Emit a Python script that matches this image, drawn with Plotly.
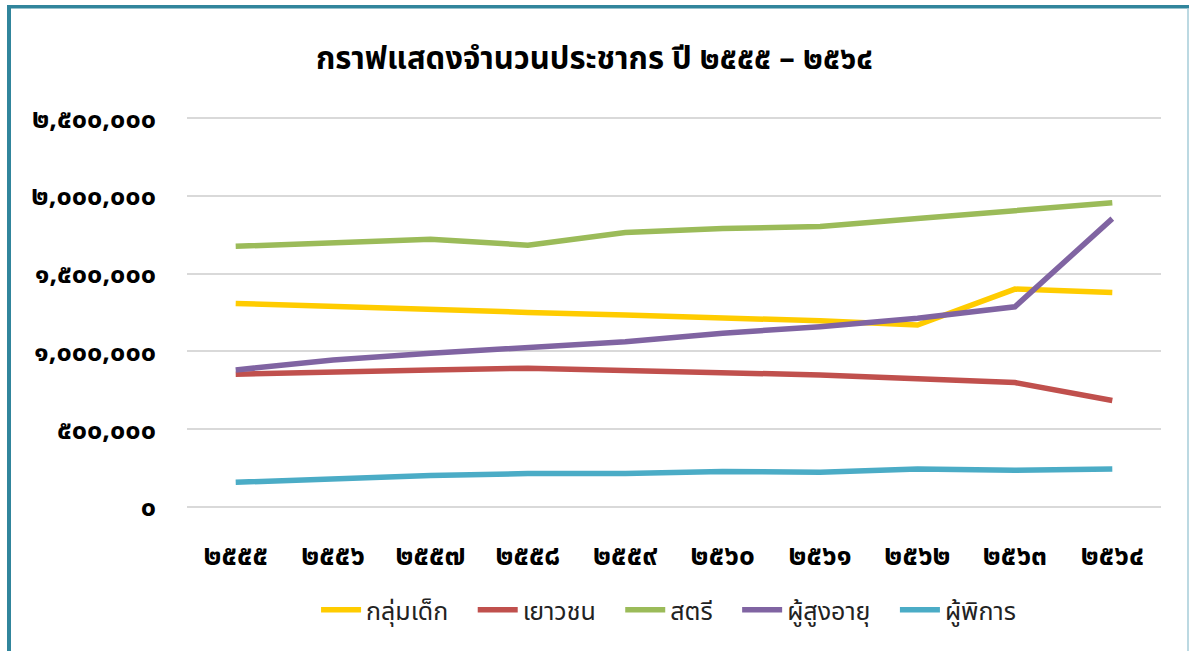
import plotly.graph_objects as go

years = ["๒๕๕๕", "๒๕๕๖", "๒๕๕๗", "๒๕๕๘", "๒๕๕๙", "๒๕๖๐", "๒๕๖๑", "๒๕๖๒", "๒๕๖๓", "๒๕๖๔"]

children = [1309000, 1287000, 1270000, 1251000, 1234000, 1219000, 1197000, 1170000, 1401000, 1379000]
youth = [854000, 870000, 881000, 892000, 877000, 867000, 849000, 824000, 800000, 685000]
women = [1676000, 1700000, 1721000, 1683000, 1764000, 1790000, 1804000, 1854000, 1907000, 1956000]
elderly = [881000, 945000, 988000, 1024000, 1063000, 1117000, 1159000, 1213000, 1287000, 1854000]
disabled = [159000, 181000, 202000, 215000, 215000, 228000, 223000, 245000, 236000, 245000]

series_names = ["กลุ่มเด็ก", "เยาวชน", "สตรี", "ผู้สูงอายุ", "ผู้พิการ"]
series_values = [children, youth, women, elderly, disabled]
series_colors = ["#FFCC00", "#C0504D", "#9BBB59", "#8064A2", "#4BACC6"]

y_tickvals = [0, 500000, 1000000, 1500000, 2000000, 2500000]
y_ticktext = ["๐", "๕๐๐,๐๐๐", "๑,๐๐๐,๐๐๐", "๑,๕๐๐,๐๐๐", "๒,๐๐๐,๐๐๐", "๒,๕๐๐,๐๐๐"]

title_text = "กราฟแสดงจำนวนประชากร ปี ๒๕๕๕ – ๒๕๖๔"

FONT = "Noto Sans Thai, Tahoma, Leelawadee UI, sans-serif"
PAD = "\u00a0\u00a0\u00a0"

fig = go.Figure()
for name, vals, col in zip(series_names, series_values, series_colors):
    fig.add_trace(go.Scatter(
        x=years, y=vals, name=name + PAD, mode="lines",
        line=dict(color=col, width=5.5),
    ))

W, H = 1189, 651
Y_MAX = 2520000
L, R, B = 187, 28, 143.5
T = 118 - (Y_MAX - 2500000) * (651 - 143.5 - 118) / 2500000
pw = W - L - R
ph = H - T - B

def px2x(px):
    return (px - L) / pw

def py2y(py):
    return (H - B - py) / ph

frame_color = "#31859C"
shapes = [
    dict(type="line", xref="paper", yref="paper", x0=px2x(9), x1=px2x(9), y0=py2y(660), y1=py2y(5),
         line=dict(color=frame_color, width=4)),
    dict(type="line", xref="paper", yref="paper", x0=px2x(7), x1=px2x(1189), y0=py2y(6.5), y1=py2y(6.5),
         line=dict(color=frame_color, width=3.5)),
    dict(type="line", xref="paper", yref="paper", x0=px2x(1188), x1=px2x(1188), y0=py2y(660), y1=py2y(8),
         line=dict(color="#A6CCD8", width=1.5)),
]

fig.update_layout(
    width=W, height=H,
    margin=dict(l=L, r=R, t=T, b=B, autoexpand=False),
    paper_bgcolor="white", plot_bgcolor="white",
    font=dict(family=FONT, color="black"),
    title=dict(text=title_text, x=0.5, xref="container", xanchor="center",
               y=1 - 58 / H, yref="container", yanchor="middle",
               font=dict(size=31, family=FONT, color="black", weight="bold")),
    xaxis=dict(type="category", showgrid=False, showline=False, zeroline=False,
               ticks="", tickfont=dict(size=28, family=FONT, color="black", weight="bold"),
               ticklabelstandoff=29, range=[-0.5, 9.5]),
    yaxis=dict(range=[0, Y_MAX], tickvals=y_tickvals, ticktext=y_ticktext,
               showgrid=True, gridcolor="#D9D9D9", gridwidth=1.5,
               zeroline=True, zerolinecolor="#D9D9D9", zerolinewidth=1.5,
               showline=False, ticks="", ticklabelstandoff=30,
               tickfont=dict(size=27, family=FONT, color="black", weight="bold")),
    legend=dict(orientation="h", x=0.5707, xref="container", xanchor="center",
                y=1 - 610 / H, yref="container", yanchor="middle",
                font=dict(size=25, family=FONT, color="#222222"),
                itemwidth=40, tracegroupgap=0),
    shapes=shapes,
    showlegend=True,
)

fig.write_html("out.html", config={"displayModeBar": False},
               post_script="document.body.style.margin='0';")
